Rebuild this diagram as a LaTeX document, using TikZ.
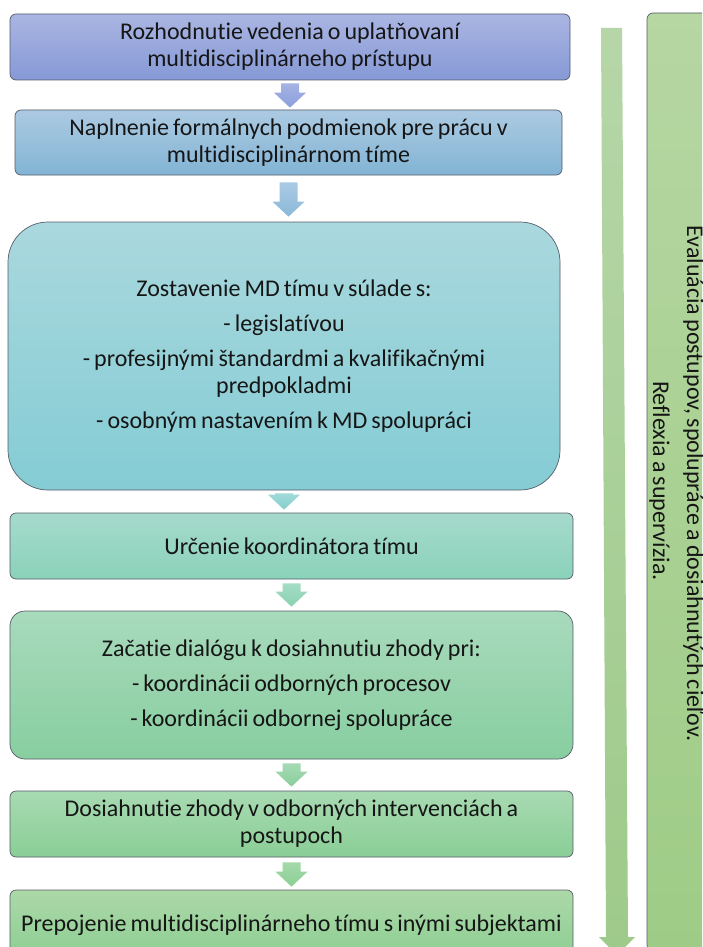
\documentclass[tikz,border=0pt]{standalone}
\usepackage{fontspec}
\setmainfont{Carlito}[Ligatures=NoCommon,WordSpace=0.75]
\usetikzlibrary{calc}
\definecolor{mdborder}{RGB}{85,92,105}
\definecolor{mdtext}{RGB}{22,22,22}
\definecolor{bAt}{RGB}{170,181,226}\definecolor{bAb}{RGB}{134,153,214}
\definecolor{bBt}{RGB}{172,202,226}\definecolor{bBb}{RGB}{130,180,212}
\definecolor{bCt}{RGB}{170,216,222}\definecolor{bCb}{RGB}{132,204,212}
\definecolor{bDt}{RGB}{166,218,204}\definecolor{bDb}{RGB}{138,210,186}
\definecolor{bEt}{RGB}{168,218,188}\definecolor{bEb}{RGB}{136,206,160}
\definecolor{bFt}{RGB}{168,218,178}\definecolor{bFb}{RGB}{138,206,150}
\definecolor{bGt}{RGB}{172,216,168}\definecolor{bGb}{RGB}{140,206,146}
\definecolor{sdt}{RGB}{182,214,162}\definecolor{sdb}{RGB}{158,204,134}
\definecolor{rat}{RGB}{182,214,168}\definecolor{rab}{RGB}{158,202,138}
\definecolor{aAt}{RGB}{165,178,228}\definecolor{aAb}{RGB}{140,160,220}
\definecolor{aBt}{RGB}{170,202,228}\definecolor{aBb}{RGB}{138,185,216}
\definecolor{aCt}{RGB}{160,218,218}\definecolor{aCb}{RGB}{132,206,202}
\definecolor{aDt}{RGB}{165,220,198}\definecolor{aDb}{RGB}{138,210,176}
\definecolor{aEt}{RGB}{165,218,180}\definecolor{aEb}{RGB}{138,206,156}
\definecolor{aFt}{RGB}{165,218,170}\definecolor{aFb}{RGB}{138,206,148}
\tikzset{
  mdbox/.style={draw=mdborder, line width=0.7pt, rounded corners=6pt,
    align=center, inner sep=0pt, text=mdtext,
    font=\fontsize{24}{27}\selectfont},
  sidetxt/.style={rotate=-90, anchor=base, inner sep=0pt, text=mdtext,
    font=\fontsize{24}{27}\selectfont},
}
% #1 from node, #2 to node, #3 top colour, #4 bottom colour, #5 gap below #1, #6 gap above #2
\newcommand\mdarrow[6]{%
  \path[top color=#3, bottom color=#4]
    ($(#1.south)+(-9,#5)$) -- ($(#1.south)+(9,#5)$)
    -- ($(#1.south |- #2.north)+(9,-#6-15)$)
    -- ($(#1.south |- #2.north)+(16,-#6-15)$)
    -- ($(#1.south |- #2.north)+(0,-#6)$)
    -- ($(#1.south |- #2.north)+(-16,-#6-15)$)
    -- ($(#1.south |- #2.north)+(-9,-#6-15)$) -- cycle;}
\begin{document}
\begin{tikzpicture}[x=1pt,y=-1pt]
\useasboundingbox (0,0) rectangle (702,947);
\clip (0,0) rectangle (702,947);
\fill[white] (0,0) rectangle (702,947);

\node[mdbox, minimum width=560pt, minimum height=66pt, top color=bAt, bottom color=bAb] (b1) at (290,47)
  {Rozhodnutie vedenia o uplatňovaní\\multidisciplinárneho prístupu};
\node[mdbox, minimum width=547pt, minimum height=65pt, top color=bBt, bottom color=bBb] (b2) at (288.5,142.5)
  {Naplnenie formálnych podmienok pre prácu v\\multidisciplinárnom tíme};
\node[mdbox, rounded corners=40pt, minimum width=552pt, minimum height=268pt, top color=bCt, bottom color=bCb] (b3) at (284,356)
  {Zostavenie MD tímu v súlade s:\\[8pt]- legislatívou\\[8pt]- profesijnými štandardmi a kvalifikačnými\\predpokladmi\\[8pt]- osobným nastavením k MD spolupráci};
\node[mdbox, minimum width=563pt, minimum height=66pt, top color=bDt, bottom color=bDb] (b4) at (291.5,546)
  {Určenie koordinátora tímu};
\node[mdbox, rounded corners=15pt, minimum width=563pt, minimum height=148pt, top color=bEt, bottom color=bEb] (b5) at (291.5,685)
  {Začatie dialógu k dosiahnutiu zhody pri:\\[8pt]- koordinácii odborných procesov\\[8pt]- koordinácii odbornej spolupráce};
\node[mdbox, minimum width=563pt, minimum height=66pt, top color=bFt, bottom color=bFb] (b6) at (291.5,824)
  {Dosiahnutie zhody v odborných intervenciách a\\postupoch};
\node[mdbox, minimum width=563pt, minimum height=70pt, top color=bGt, bottom color=bGb] (b7) at (291.5,925)
  {Prepojenie multidisciplinárneho tímu s inými subjektami};

\mdarrow{b1}{b2}{aAt}{aAb}{3}{2}
\mdarrow{b2}{b3}{aBt}{aBb}{7}{5}
\mdarrow{b3}{b4}{aCt}{aCb}{3}{3}
\mdarrow{b4}{b5}{aDt}{aDb}{4}{4}
\mdarrow{b5}{b6}{aEt}{aEb}{4}{4}
\mdarrow{b6}{b7}{aFt}{aFb}{5}{3}

% side box
\node[draw=mdborder, line width=0.7pt, rounded corners=6pt, inner sep=0pt,
  minimum width=112pt, minimum height=938pt, top color=sdt, bottom color=sdb] (side) at (703,482) {};
\node[sidetxt] (sideA) at (687,483.5) {Evaluácia postupov, spolupráce a dosiahnutých cieľov.};
\node[sidetxt] (sideB) at (653,481) {Reflexia a supervízia.};

% long arrow beside the flow
\coordinate (rtop) at (611.5,28);
\coordinate (rtip) at (617,955);
\path[top color=rat, bottom color=rab]
  ($(rtop)+(-10.5,0)$) -- ($(rtop)+(10.5,0)$) -- ($(rtip)+(11,-18)$) -- ($(rtip)+(18,-18)$)
  -- (rtip) -- ($(rtip)+(-18,-18)$) -- ($(rtip)+(-11,-18)$) -- cycle;
\end{tikzpicture}
\end{document}
